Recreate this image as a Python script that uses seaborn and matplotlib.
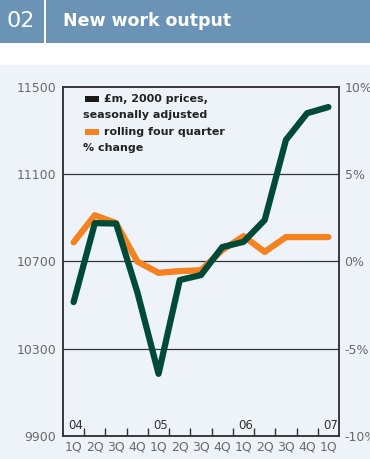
import matplotlib
matplotlib.use("Agg")
import matplotlib.pyplot as plt
import seaborn as sns
import pandas as pd
from matplotlib.patches import Rectangle

quarters = ["1Q", "2Q", "3Q", "4Q", "1Q", "2Q", "3Q", "4Q", "1Q", "2Q", "3Q", "4Q", "1Q"]
year_labels = ["04", "05", "06", "07"]
year_positions = [0, 4, 8, 12]
output_values = [10514, 10876, 10874, 10560, 10185, 10615, 10638, 10766, 10790, 10890, 11257, 11380, 11408]
pct_change = [1.1, 2.65, 2.2, 0.0, -0.65, -0.55, -0.5, 0.65, 1.45, 0.55, 1.4, 1.4, 1.4]
left_ticks = [9900, 10300, 10700, 11100, 11500]
right_ticks = [-10, -5, 0, 5, 10]
right_labels = ["-10%", "-5%", "0%", "5%", "10%"]
title_num = "02"
title_text = "New work output"
legend_texts = [["£m, 2000 prices,", "seasonally adjusted"], ["rolling four quarter", "% change"]]

df = pd.DataFrame({"x": range(len(quarters)), "output": output_values, "pct": pct_change})

sns.set_style("white")
plt.rcParams["font.family"] = ["DejaVu Sans"]

GREEN = "#004a37"
ORANGE = "#f5821f"
PANEL = "#eef3fa"
HEADER = "#6b93b6"
AX = "#333333"
GREY = "#6a6a6a"

W, H = 370, 459
fig = plt.figure(figsize=(W / 100, H / 100), dpi=100)
fig.patch.set_facecolor("white")

# header band and panel background
fig.add_artist(Rectangle((0, (H - 43) / H), 1, 43 / H, transform=fig.transFigure,
                         facecolor=HEADER, edgecolor="none", zorder=0))
fig.add_artist(Rectangle((44 / W, (H - 43) / H), 2 / W, 43 / H, transform=fig.transFigure,
                         facecolor="white", edgecolor="none", zorder=1))
fig.add_artist(Rectangle((0, 0), 1, (H - 65) / H, transform=fig.transFigure,
                         facecolor=PANEL, edgecolor="none", zorder=0))
fig.text(21 / W, (H - 21) / H, title_num, color="white", fontsize=16, ha="center", va="center")
fig.text(63 / W, (H - 21) / H, title_text, color="white", fontsize=12.5, fontweight="bold",
         ha="left", va="center")

ax = fig.add_axes([63 / W, 23 / H, 276 / W, 349 / H])
ax.set_facecolor(PANEL)
ax2 = ax.twinx()

sns.lineplot(data=df, x="x", y="pct", ax=ax2, color=ORANGE, linewidth=4.5, zorder=2)
sns.lineplot(data=df, x="x", y="output", ax=ax, color=GREEN, linewidth=4.5, zorder=3)
ax.set_zorder(ax2.get_zorder() + 1)
ax.patch.set_visible(False)
ax2.patch.set_visible(True)
ax2.patch.set_facecolor(PANEL)

ax.set_xlim(-0.5, 12.5)
ax.set_ylim(9900, 11500)
ax2.set_ylim(-10, 10)

for y in [10300, 10700, 11100]:
    ax2.axhline((y - 10700) / 80, color=AX, linewidth=0.9, zorder=1)

ax.set_yticks(left_ticks)
ax.set_yticklabels([str(v) for v in left_ticks])
ax2.set_yticks(right_ticks)
ax2.set_yticklabels(right_labels)
ax.tick_params(axis="y", length=0, pad=5, labelsize=9, labelcolor=GREY)
ax2.tick_params(axis="y", length=0, pad=4, labelsize=9, labelcolor=GREY)

ax.set_xticks(range(len(quarters)))
ax.set_xticklabels(quarters)
ax.set_xticks([i + 0.5 for i in range(len(quarters) - 1)], minor=True)
ax.tick_params(axis="x", which="major", length=0, pad=3, labelsize=9, labelcolor=GREY)
ax.tick_params(axis="x", which="minor", length=6, width=1, direction="in", color=AX, bottom=True)
ax.set_xlabel("")
ax.set_ylabel("")
ax2.set_ylabel("")

for a in (ax, ax2):
    for s in a.spines.values():
        s.set_color(AX)
        s.set_linewidth(1.1)
        s.set_visible(True)

for pos, lab in zip(year_positions, year_labels):
    ax.text(pos + 0.1, 9900 + 18, lab, ha="center", va="bottom", fontsize=8.5, color=AX)

# legend (manual)
bold = dict(fontsize=8, fontweight="bold", color="#222222", va="center", ha="left",
            transform=fig.transFigure)
line_y = [99, 115, 132, 148]
patch_colors = ["#1a1a1a", ORANGE]
for i, (lines, col) in enumerate(zip(legend_texts, patch_colors)):
    y1 = line_y[2 * i]
    y2 = line_y[2 * i + 1]
    fig.add_artist(Rectangle((85 / W, (H - y1 - 2.5) / H), 14 / W, 5 / H, transform=fig.transFigure,
                             facecolor=col, edgecolor="none", zorder=5))
    fig.text(104 / W, (H - y1) / H, lines[0], **bold)
    fig.text(83 / W, (H - y2) / H, lines[1], **bold)

fig.savefig("out.png", dpi=100)
